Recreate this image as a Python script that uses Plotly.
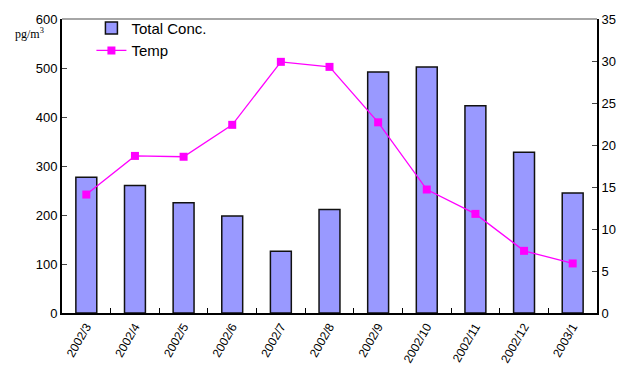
import plotly.graph_objects as go

months = ["2002/3", "2002/4", "2002/5", "2002/6", "2002/7", "2002/8",
          "2002/9", "2002/10", "2002/11", "2002/12", "2003/1"]
total_conc = [277, 260, 225, 198, 126, 211, 492, 502, 423, 328, 245]
temp = [14.1, 18.7, 18.6, 22.4, 29.9, 29.3, 22.7, 14.7, 11.8, 7.4, 5.9]

font_main = "Liberation Sans, Arial, sans-serif"

fig = go.Figure()
fig.add_trace(go.Bar(
    x=months, y=total_conc, name="Total Conc.",
    marker=dict(color="#9999FF", line=dict(color="#111111", width=1.5)),
    width=0.43, yaxis="y",
))
fig.add_trace(go.Scatter(
    x=months, y=temp, name="Temp", mode="lines+markers",
    line=dict(color="#FF00FF", width=1.3),
    marker=dict(symbol="square", size=8, color="#FF00FF"),
    yaxis="y2",
))

fig.update_layout(
    width=629, height=365,
    margin=dict(l=62, r=32, t=12, b=52),
    paper_bgcolor="white", plot_bgcolor="white",
    font=dict(family=font_main, size=12, color="black"),
    showlegend=True,
    legend=dict(x=0.055, y=1.025, xanchor="left", yanchor="top",
                font=dict(size=15, family=font_main),
                bgcolor="rgba(0,0,0,0)", tracegroupgap=0,
                itemwidth=30),
    xaxis=dict(
        type="category", range=[-0.5, len(months) - 0.5],
        tickangle=-60, ticks="inside", ticklen=5,
        tickson="boundaries", tickcolor="black",
        showline=True, linecolor="black", linewidth=2,
        mirror=False, showgrid=False, zeroline=False,
        tickfont=dict(size=12), automargin=False,
    ),
    yaxis=dict(
        range=[0, 600], dtick=100, ticks="inside", ticklen=5,
        showline=True, linecolor="black", linewidth=2,
        showgrid=False, zeroline=False, tickfont=dict(size=13),
        automargin=False,
    ),
    yaxis2=dict(
        range=[0, 35], dtick=5, overlaying="y", side="right",
        ticks="inside", ticklen=5,
        showline=True, linecolor="black", linewidth=2,
        showgrid=False, zeroline=False, tickfont=dict(size=13),
        automargin=False,
    ),
    shapes=[dict(type="line", xref="paper", yref="paper",
                 x0=0, x1=1, y0=1, y1=1,
                 line=dict(color="#888888", width=1.5))],
    annotations=[dict(
        text="pg/m<sup>3</sup>", xref="paper", yref="paper",
        x=-0.03, y=0.95, xanchor="right", yanchor="middle",
        showarrow=False,
        font=dict(family="Liberation Serif, Times New Roman, serif", size=12),
    )],
)

fig.write_html("out.html")
